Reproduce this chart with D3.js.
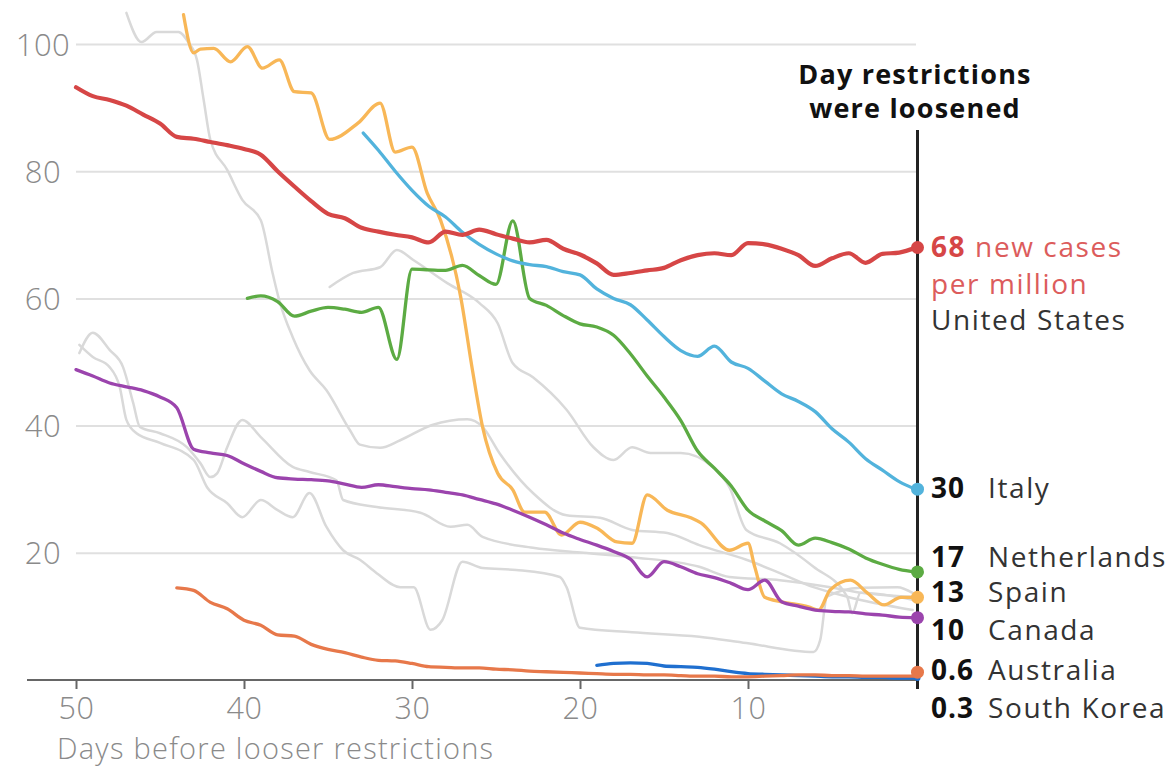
<!DOCTYPE html>
<html><head><meta charset="utf-8">
<script src="https://cdn.jsdelivr.net/npm/d3@7"></script>
<style>
body{margin:0;background:#fff}
svg{display:block}
</style>
</head><body>
<svg id="chart" width="1176" height="767"></svg>
<script>
// ---------- DATA ----------
const yTicks = [20, 40, 60, 80, 100];
const xTicks = [50, 40, 30, 20, 10];
const xTitle = "Days before looser restrictions";
const headerLines = ["Day restrictions", "were loosened"];

// [days before loosening, new cases per million]
const unitedStates = [[50,93.2],[49,91.8],[48,91.2],[47,90.3],[46,88.9],[45,87.5],[44,85.4],[43,85.1],[42,84.6],[41,84.1],[40,83.5],[39,82.6],[38,80],[37,77.6],[36,75.3],[35,73.3],[34,72.6],[33,71.1],[32,70.5],[31,70],[30,69.6],[29,68.8],[28,70.5],[27,70],[26,70.8],[25,70.1],[24,69.4],[23,68.8],[22,69.2],[21,67.8],[20,66.9],[19,65.5],[18,63.7],[17,64],[16,64.4],[15,64.8],[14,66],[13,66.8],[12,67.1],[11,66.8],[10,68.7],[9,68.5],[8,67.8],[7,66.8],[6,65.1],[5,66.3],[4,67.1],[3,65.6],[2,67],[1,67.2],[0,68]];
const italy = [[32.9,86],[32,83.3],[31,80],[30,77],[29,74.5],[28,72.8],[27,70.4],[26,68.5],[25,67],[24,65.9],[23,65.3],[22,65],[21,64.2],[20,63.7],[19,61.5],[18,60],[17,59],[16,56.6],[15,54],[14,51.8],[13,50.9],[12,52.5],[11,50],[10,49],[9,47],[8,45],[7,43.8],[6,42.2],[5,39.5],[4,37.4],[3,34.8],[2,33],[1,31.2],[0,30]];
const netherlands = [[39.8,60],[39,60.4],[38,59.5],[37,57.2],[36,58],[35,58.6],[34,58.3],[33,57.8],[32,58.6],[30.9,50.4],[30,64.6],[29,64.5],[28,64.4],[27,65.2],[26,63.6],[25,62.2],[24,72.2],[23,60],[22,58.9],[21,57.3],[20,56],[19,55.5],[18,54.2],[17,51.3],[16,47.8],[15,44.5],[14,40.8],[13,36],[12,33.3],[11,30.5],[10,26.7],[9,25],[8,23.5],[7,21.2],[6,22.3],[5,21.6],[4,20.6],[3,19.2],[2,18.2],[1,17.4],[0,17]];
const spain = [[43.6,104.6],[43,98.6],[42.6,99.2],[41.8,99.3],[40.8,97.2],[39.8,99.6],[38.9,96.2],[37.9,97.5],[37,92.5],[36,92.3],[34.9,85],[33.2,87.6],[31.9,90.7],[31,83],[30,83.8],[29.1,76.6],[28.3,72.3],[27.1,60.2],[26.4,48.7],[25.8,39.8],[24.9,32.5],[24,29.9],[23.3,26.4],[22.1,26.4],[21.1,22.8],[20,24.8],[19,23.9],[17.8,21.7],[16.9,21.5],[16,29.1],[14.8,26.7],[13.4,25.5],[12.8,24.7],[11.1,20.4],[10,21.5],[9.6,17.8],[9,13],[8,12.3],[6.4,11.5],[5.8,11],[5.1,14.2],[3.9,15.7],[2.9,13.7],[1.9,11.8],[0.9,13],[0,13]];
const canada = [[50,48.8],[49,47.8],[48,46.7],[47,46.1],[46,45.5],[45,44.5],[44,42.8],[43,36.3],[42,35.7],[41,35.3],[40,34],[39,32.8],[38,31.8],[37,31.6],[36,31.5],[35,31.3],[34,30.8],[33,30.3],[32,30.7],[31,30.4],[30,30.1],[29,29.9],[28,29.5],[27,29.1],[26,28.4],[25,27.7],[24,26.7],[23,25.6],[22,24.4],[21,23.1],[20,22.1],[19,21.2],[18,20.2],[17,19],[16,16.2],[15,18.6],[14,17.8],[13,16.7],[12,16.1],[11,15.2],[10,14.2],[9,15.7],[8,12.3],[7,11.6],[6,11],[5,10.8],[4,10.7],[3,10.4],[2,10.2],[1,9.9],[0,9.8]];
const australia = [[44,14.5],[43,14.1],[42,12.2],[41,11.2],[40,9.4],[39,8.6],[38,7.1],[37,6.9],[36,5.6],[35,4.8],[34,4.3],[33,3.6],[32,3.1],[31,3],[30,2.6],[29,2.1],[28,2],[27,1.9],[26,1.9],[25,1.7],[24,1.6],[23,1.4],[22,1.3],[21,1.2],[20,1.1],[19,1],[18,0.9],[17,0.9],[16,0.8],[15,0.8],[14,0.7],[13,0.6],[12,0.6],[11,0.5],[10,0.5],[9,0.6],[8,0.7],[7,0.8],[6,0.8],[5,0.7],[4,0.7],[3,0.6],[2,0.6],[1,0.6],[0,0.6]];
const southKorea = [[19,2.3],[18,2.6],[17,2.7],[16,2.6],[15,2.2],[14,2.1],[13,2],[12,1.7],[11,1.3],[10,1],[9,0.9],[8,0.8],[7,0.7],[6,0.6],[5,0.5],[4,0.5],[3,0.4],[2,0.4],[1,0.3],[0,0.3]];

// other countries (grey context lines)
const greyA = [[47,104.9],[46.1,100.3],[45.2,101.9],[43.9,101.9],[43.3,100.2],[42.8,97.5],[42.4,91.2],[42,84.9],[41,80.2],[40.1,75.5],[39,72.3],[38.3,64],[37.9,59.7],[37.1,53.9],[36.1,48.7],[35.1,45.6],[33.7,39.3],[33.1,37],[31.9,36.5],[30.7,37.7],[28.8,40.1],[26.7,41],[25.8,39.8],[24.8,35.7],[22.8,29.4],[20.8,25.9],[18.8,25.5],[16.9,23.6],[14.8,23.1],[12.9,21.2],[10.1,18.9],[8.1,16.8],[6.1,14.6],[4.1,13.1],[0.2,11]];
const greyB = [[34.9,61.8],[33.5,64],[31.9,64.9],[30.9,67.6],[29.9,66],[27.9,62.4],[26,59.3],[24.9,56.1],[24,49.8],[22.8,47.6],[20.8,42.5],[19.2,36.6],[18,34.6],[16.9,36.6],[15.8,35.7],[14,35.7],[12.1,33.5],[11.1,30.3],[10.1,23.6],[8.1,21.5],[6.1,17.8],[4.1,13.1],[3.8,10.5],[3.3,13.7],[0.2,12.6]];
const greyC = [[49.8,51.4],[49,54.6],[48,51.9],[47.2,49.2],[46.6,43.6],[46.2,39.8],[45,38.8],[43.4,36.6],[42.6,34.1],[42,31.9],[41.6,32.5],[41,36.6],[40.1,40.9],[39,38.2],[37.1,33.5],[36.1,32.7],[34.5,31.4],[34.1,28.3],[32.1,27.2],[29.5,26.3],[27.7,24.1],[26.7,24.4],[25.8,22.5],[22.8,20.8],[19.8,20],[16.9,19.3],[12.9,17.8],[11.1,16.2],[8.1,15.7],[5.1,14.6],[3.2,13.7],[0.2,13.1]];
const greyD = [[49.8,52.7],[49,50.8],[48,49.2],[47.4,46.1],[47,40.9],[46.4,38.8],[45,37.3],[43,34.6],[42.2,30.3],[41,27.8],[40.1,25.6],[39,28.3],[38,26.7],[37.1,25.6],[36.1,29.4],[35.1,24.1],[34.1,20.4],[33.1,18.9],[32.1,16.8],[30.7,14.6],[29.9,14.6],[28.9,7.9],[28.2,9.4],[27,18.6],[25.8,17.6],[23.8,17.3],[21.2,16.2],[20.8,14.6],[20,8.2],[16.9,7.5],[12.9,6.8],[10.1,5.8],[6.1,4.4],[5.7,6.3],[5.3,13.1],[3.3,14.5],[1.1,14.6],[0.2,13.7]];

const countryNames = ["United States","Italy","Netherlands","Spain","Canada","Australia","South Korea"];
const endLabels = ["68","30","17","13","10","0.6","0.3"];
const seriesList = [unitedStates, italy, netherlands, spain, canada, australia, southKorea];
const greyList = [greyA, greyB, greyC, greyD];

// ---------- STYLE / LAYOUT ----------
const colors = ["#d64646","#52b3dc","#5cab43","#f8b757","#9b44ad","#e7784a","#1f6fcf"];
const drawOrder = [6,5,3,4,2,1,0];
const labelDy = [9.5, 9, -5, 5, 22, 4, 40]; // baseline offset from end point
const x = d3.scaleLinear().domain([50, 0]).range([76, 916]);
const y = d3.scaleLinear().domain([0, 100]).range([680, 44]);
const font = "'Open Sans', Roboto, 'Liberation Sans', Arial, sans-serif";

const svg = d3.select("#chart");

// gridlines + y labels
const gy = svg.append("g").attr("transform", `translate(${x(50)},0)`)
  .call(d3.axisLeft(y).tickValues(yTicks).tickSize(-(x(0) - x(50))).tickPadding(0));
gy.select(".domain").remove();
gy.selectAll(".tick line").attr("stroke", "#e0e0e0").attr("stroke-width", 2);
gy.selectAll(".tick text")
  .attr("x", -33).attr("dy", "0.36em")
  .attr("text-anchor", "middle")
  .style("font-family", font).style("font-weight", 300)
  .style("font-size", "31px").style("letter-spacing", "0.5px").attr("fill", "#8a8a8a");

// x axis
const gx = svg.append("g").attr("transform", `translate(0,${y(0)})`)
  .call(d3.axisBottom(x).tickValues(xTicks).tickSize(9).tickPadding(8).tickFormat(d3.format("d")));
gx.select(".domain").attr("d", `M27,0H${x(0)}`).attr("stroke", "#666").attr("stroke-width", 2);
gx.selectAll(".tick line").attr("stroke", "#666").attr("stroke-width", 2);
gx.selectAll(".tick text")
  .style("font-family", font).style("font-weight", 300)
  .style("font-size", "30.5px").style("letter-spacing", "0.6px").attr("fill", "#8a8a8a");

svg.append("text").attr("x", 57).attr("y", 758.5).text(xTitle)
  .style("font-family", font).style("font-weight", 300)
  .style("font-size", "29px").style("letter-spacing", "1.25px").attr("fill", "#8a8a8a");

const line = d3.line().x(d => x(d[0])).y(d => y(d[1])).curve(d3.curveMonotoneX);

// grey lines
svg.append("g").selectAll("path").data(greyList).join("path")
  .attr("d", line).attr("fill", "none")
  .attr("stroke", "#d9d9d9").attr("stroke-width", 2.5)
  .attr("stroke-linejoin", "round").attr("stroke-linecap", "round");

// vertical marker
svg.append("line").attr("x1", x(0) + 1.5).attr("x2", x(0) + 1.5)
  .attr("y1", 130).attr("y2", 689).attr("stroke", "#222").attr("stroke-width", 3);

// header
svg.append("text").attr("text-anchor", "middle")
  .style("font-family", font).style("font-weight", 700)
  .style("font-size", "27px").style("letter-spacing", "1.2px").attr("fill", "#111")
  .selectAll("tspan").data(headerLines).join("tspan")
  .attr("x", x(0) - 1).attr("y", (d, i) => 84 + i * 34).text(d => d);

// coloured lines
const cg = svg.append("g");
drawOrder.forEach(i => {
  cg.append("path").datum(seriesList[i]).attr("d", line)
    .attr("fill", "none").attr("stroke", colors[i])
    .attr("stroke-width", i === 0 ? 4.2 : 3.3)
    .attr("stroke-linejoin", "round").attr("stroke-linecap", "round");
});
drawOrder.forEach(i => {
  const last = seriesList[i][seriesList[i].length - 1];
  cg.append("circle").attr("cx", x(last[0]) + 1.5).attr("cy", y(last[1]) - (i === 5 ? 4 : 0))
    .attr("r", i === 6 ? 3 : 6.5).attr("fill", colors[i]);
});

// end labels
const fs = "28px", ls = "1.6px";
const lx = x(0) + 15, nx = x(0) + 72;
seriesList.forEach((s, i) => {
  const last = s[s.length - 1];
  const by = y(last[1]) + labelDy[i];
  if (i === 0) {
    const t = svg.append("text").attr("x", lx).attr("y", by)
      .style("font-family", font).style("font-size", fs).style("letter-spacing", ls);
    t.append("tspan").attr("fill", "#d64646").style("font-weight", 700).text(endLabels[i]);
    t.append("tspan").attr("fill", "#dc5c5c").text(" new cases");
    svg.append("text").attr("x", lx).attr("y", by + 36.5).attr("fill", "#dc5c5c")
      .style("font-family", font).style("font-size", fs).style("letter-spacing", ls).text("per million");
    svg.append("text").attr("x", lx).attr("y", by + 73).attr("fill", "#333")
      .style("font-family", font).style("font-size", fs).style("letter-spacing", ls).text(countryNames[i]);
  } else {
    svg.append("text").attr("x", lx).attr("y", by).attr("fill", "#111")
      .style("font-family", font).style("font-weight", 700).style("font-size", fs)
      .style("letter-spacing", "1px").text(endLabels[i]);
    svg.append("text").attr("x", nx).attr("y", by).attr("fill", "#333")
      .style("font-family", font).style("font-size", fs).style("letter-spacing", ls)
      .text(countryNames[i]);
  }
});
</script>
</body></html>
